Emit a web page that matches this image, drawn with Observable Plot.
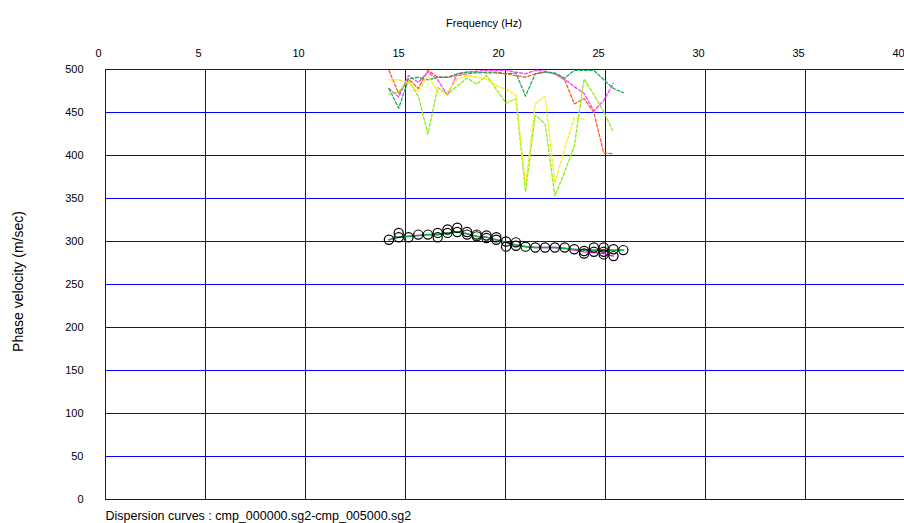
<!DOCTYPE html>
<html><head><meta charset="utf-8">
<script src="https://cdn.jsdelivr.net/npm/d3@7"></script>
<script src="https://cdn.jsdelivr.net/npm/@observablehq/plot@0.6"></script>
<style>
body{margin:0;background:#fff;}
#chart svg{display:block;}
</style></head><body><div id="chart"></div>
<script>
// Frequency (Hz) of each sample
const freq = [14.17,14.66,15.15,15.64,16.12,16.61,17.10,17.59,18.08,18.56,19.05,19.54,20.03,20.52,21.00,21.49,21.98,22.47,22.96,23.44,23.93,24.42,24.91,25.40,25.89];

// Dashed (higher mode) curves, phase velocity m/sec
const redDash      = [499,472,489,478,499,491,491,493,495,496,497,497,495,493,491,495,497,495,488,460,466,450,403,402];
const magentaDash  = [478,468,493,485,497,488,470,495,497,498,499,499,499,497,495,499,498,495,489,480,472,452,464,484];
const seaGreenDash = [478,455,489,491,488,491,491,495,497,497,496,496,495,496,469,495,497,496,490,499,499,499,488,478,473];
const limeDash     = [471,474,487,469,425,479,471,481,490,483,493,477,461,466,358,447,437,353,381,411,489,471,451,427];
const yellowDash   = [488,488,485,474,493,474,474,489,493,491,489,481,477,470,365,460,469,368,408,444,442];

// Observed dispersion points (circles)
const circA = [302,310,305,308,308,310,314,316,311,308,307,305,300,299,294,293,293,293,293,291,289,293,293,291,290];
const circB = [null,305,null,null,null,305,310,311,308,306,304,302,294,295,null,null,null,null,null,null,286,288,288,283,null];
const circC = [null,null,null,null,null,null,null,null,null,null,null,null,null,null,null,null,null,null,null,null,null,null,285,null,null];

// Solid fitted curves
const greenSolid   = [302,305,306,307,308,308,310,311,309,306,305,302,299,296,294,293,293,293,292,291,290,290,290,290,290];
const magentaSolid = [302,305,306,307,308,308,310,311,309,306,305,302,299,296,294,293,293,293,292,290,288,287,286,283];

const xTicks = [0,5,10,15,20,25,30,35,40];
const yTicks = [0,50,100,150,200,250,300,350,400,450,500];

const rows = vals => vals.map((v,i)=>({f:freq[i], v})).filter(d=>d.v!=null);
const font = "'Liberation Sans', Arial, sans-serif";
const dash = (vals, color) => Plot.line(rows(vals), {x:"f", y:"v", stroke:color, strokeWidth:1.3, strokeDasharray:"3,2"});

const plot = Plot.plot({
  width: 904, height: 523,
  marginTop: 69, marginLeft: 105, marginRight: 0, marginBottom: 24,
  style: {fontFamily: font, fontSize: "11px", background: "#fff", color: "#000"},
  x: {domain:[0,40], range:[105, 905]},
  y: {domain:[0,500], range:[499, 69]},
  marks: [
    Plot.ruleX(xTicks, {stroke:"#0000ff", strokeWidth:1}),
    Plot.ruleY(yTicks, {stroke:"#0000ff", strokeWidth:1}),
    dash(redDash, "#ff5a28"),
    dash(magentaDash, "#ff3cff"),
    dash(seaGreenDash, "#1fa860"),
    dash(limeDash, "#8fec14"),
    dash(yellowDash, "#f0f020"),
    Plot.line(rows(magentaSolid), {x:"f", y:"v", stroke:"#ff00ff", strokeWidth:1.3}),
    Plot.line(rows(greenSolid), {x:"f", y:"v", stroke:"#11b040", strokeWidth:1.6}),
    Plot.dot(rows(circA), {x:"f", y:"v", r:4.6, stroke:"#000", fill:"none", strokeWidth:1.2}),
    Plot.dot(rows(circB), {x:"f", y:"v", r:4.6, stroke:"#000", fill:"none", strokeWidth:1.2}),
    Plot.dot(rows(circC), {x:"f", y:"v", r:4.6, stroke:"#000", fill:"none", strokeWidth:1.2}),
    Plot.axisX(xTicks, {anchor:"top", tickSize:0, tickPadding:13, dx:-7, label:null, fontSize:11}),
    Plot.axisY(yTicks, {anchor:"left", tickSize:0, tickPadding:22, label:null, fontSize:11}),
    Plot.text(["Frequency (Hz)"], {text:d=>d, frameAnchor:"top", dx:-21, dy:-50, fontSize:11}),
    Plot.text(["Phase velocity (m/sec)"], {text:d=>d, frameAnchor:"left", textAnchor:"middle", rotate:-90, dx:-87, dy:-3, fontSize:14}),
    Plot.text(["Dispersion curves : cmp_000000.sg2-cmp_005000.sg2"], {text:d=>d, frameAnchor:"bottom-left", textAnchor:"start", dy:20, fontSize:12.5})
  ]
});
document.getElementById("chart").appendChild(plot);
</script></body></html>
